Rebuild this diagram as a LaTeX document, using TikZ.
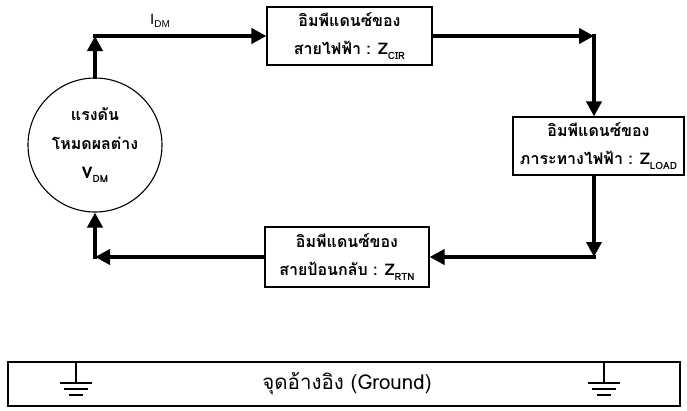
\documentclass[tikz,border=0pt]{standalone}
\usepackage{fontspec}
\newfontfamily\thai[Script=Thai]{Loma}
\newfontfamily\lat{Liberation Sans}
\usetikzlibrary{arrows.meta,calc}
\newcommand{\mysub}[1]{\raisebox{-0.5ex}{\fontsize{10pt}{10pt}\selectfont #1}}
\begin{document}
\begin{tikzpicture}[x=1pt,y=-1pt,
  box/.style={draw,line width=1.1pt,minimum width=#1,inner sep=0pt,align=center,font=\thai\bfseries\fontsize{16pt}{28pt}\selectfont},
  flow/.style={line width=3.8pt,line cap=rect,-{Triangle[length=15pt,width=15pt]}},
  gnd/.style={line width=1.3pt}]
\useasboundingbox (0,0) rectangle (687,410);
% source
\node[draw,circle,line width=1.1pt,minimum size=134pt,inner sep=0pt,align=center,font=\thai\bfseries\fontsize{16pt}{29pt}\selectfont] (src) at (95,145) {แรงดัน\\โหมดผลต่าง\\V\mysub{DM}};
% boxes
\node[box=165pt,minimum height=58pt] (cir) at (349.5,36) {อิมพีแดนซ์ของ\\สายไฟฟ้า : Z\mysub{CIR}};
\node[box=171pt,minimum height=58pt] (load) at (598.5,146) {อิมพีแดนซ์ของ\\ภาระทางไฟฟ้า : Z\mysub{LOAD}};
\node[box=164pt,minimum height=60pt] (rtn) at (347,257) {อิมพีแดนซ์ของ\\สายป้อนกลับ : Z\mysub{RTN}};
% corners
\coordinate (tl) at (src.north |- cir.west);
\coordinate (tr) at (594,36);
\coordinate (br) at (594,257);
\coordinate (bl) at (src.south |- rtn.west);
% flows
\draw[flow] (src.north) -- (tl);
\draw[flow] (tl) -- (cir.west);
\draw[flow] (cir.east) -- (tr);
\draw[flow] (tr) -- (tr |- load.north);
\draw[flow] (tr |- load.south) -- (br);
\draw[flow] (br) -- (rtn.east);
\draw[flow] (rtn.west) -- (bl);
\draw[flow] (bl) -- (src.south);
\node[font=\lat\fontsize{15pt}{15pt}\selectfont,anchor=base] (idm) at (160,24) {I\mysub{DM}};
% ground
\node[draw,line width=1.1pt,minimum width=672pt,minimum height=44pt,inner sep=0pt] (gbox) at (344,384) {};
\node[font=\thai\fontsize{20.5pt}{20pt}\selectfont] (glabel) at (347,384) {จุดอ้างอิง (Ground)};
\foreach \n/\gx in {g1/76,g2/604}{
  \coordinate (\n) at (\gx,383);
  \draw[gnd] (\n |- gbox.north) -- (\n);
  \draw[gnd] ($(\n)+(-16,0)$) -- ($(\n)+(16,0)$);
  \draw[gnd] ($(\n)+(-12,6)$) -- ($(\n)+(12,6)$);
  \draw[gnd] ($(\n)+(-7,12)$) -- ($(\n)+(7,12)$);
}
\end{tikzpicture}
\end{document}
